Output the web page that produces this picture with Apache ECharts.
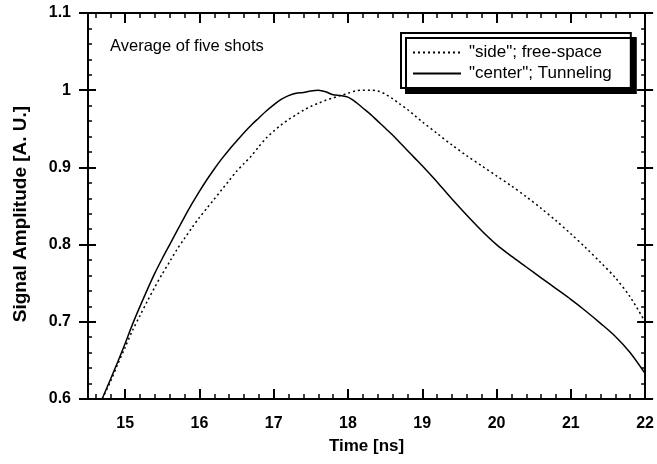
<!DOCTYPE html>
<html>
<head>
<meta charset="utf-8">
<script src="https://cdn.jsdelivr.net/npm/echarts@6/dist/echarts.min.js"></script>
<style>html,body{margin:0;padding:0;background:#fff}#c{width:657px;height:464px}</style>
</head>
<body>
<div id="c"></div>
<script>
// ---- data ----
const xTickLabels = [15, 16, 17, 18, 19, 20, 21, 22];
const yTickLabels = [0.6, 0.7, 0.8, 0.9, 1.0, 1.1];
const seriesNames = ['"side"; free-space', '"center"; Tunneling'];

const centerTime = [14.69,14.8,14.9,15.0,15.1,15.2,15.3,15.4,15.5,15.6,15.7,15.8,15.9,16.0,16.1,16.2,16.3,16.4,16.5,16.6,16.7,16.8,16.9,17.0,17.1,17.2,17.3,17.4,17.5,17.6,17.7,17.8,17.9,18.0,18.1,18.2,18.3,18.4,18.5,18.6,18.7,18.8,18.9,19.0,19.2,19.4,19.6,19.8,20.0,20.2,20.4,20.6,20.8,21.0,21.2,21.4,21.6,21.8,22.0];
const centerAmp  = [0.600,0.625,0.648,0.672,0.697,0.720,0.742,0.763,0.782,0.800,0.818,0.836,0.853,0.869,0.884,0.898,0.911,0.923,0.934,0.945,0.955,0.964,0.973,0.981,0.988,0.993,0.996,0.997,0.999,1.000,0.998,0.994,0.993,0.991,0.985,0.977,0.969,0.960,0.951,0.942,0.932,0.922,0.912,0.902,0.881,0.859,0.838,0.818,0.800,0.785,0.771,0.757,0.743,0.729,0.714,0.698,0.681,0.660,0.633];

const sideTime = [14.69,14.8,14.9,15.0,15.1,15.2,15.3,15.4,15.5,15.6,15.7,15.8,15.9,16.0,16.1,16.2,16.3,16.4,16.5,16.6,16.7,16.8,16.9,17.0,17.1,17.2,17.3,17.4,17.5,17.6,17.7,17.8,17.9,18.0,18.1,18.2,18.3,18.4,18.5,18.6,18.7,18.8,18.9,19.0,19.2,19.4,19.6,19.8,20.0,20.2,20.4,20.6,20.8,21.0,21.2,21.4,21.6,21.8,22.0];
const sideAmp  = [0.600,0.622,0.645,0.667,0.689,0.708,0.727,0.745,0.762,0.778,0.794,0.808,0.822,0.835,0.847,0.859,0.871,0.883,0.895,0.905,0.915,0.927,0.938,0.947,0.955,0.962,0.968,0.974,0.979,0.983,0.987,0.990,0.993,0.996,0.999,1.000,1.000,0.999,0.995,0.989,0.982,0.975,0.967,0.959,0.944,0.929,0.915,0.902,0.889,0.876,0.862,0.847,0.831,0.814,0.796,0.777,0.757,0.732,0.700];

// minor tick positions
const xMinor = [];
for (let i = 146; i <= 220; i += 2) { if (i % 10 !== 0) xMinor.push(i / 10); }
const yMinor = [];
for (let i = 60; i <= 110; i += 2) { if (i % 10 !== 0) yMinor.push(i / 100); }

const FONT = '"Liberation Sans", Arial, sans-serif';
const zip = (a, b) => a.map((v, i) => [v, b[i]]);

const baseX = (pos, opt) => Object.assign({
  type: 'value', min: 14.5, max: 22, position: pos, gridIndex: 0,
  splitLine: { show: false }, axisLabel: { show: false },
  axisLine: { show: false }, axisTick: { show: false }
}, opt);
const baseY = (pos, opt) => Object.assign({
  type: 'value', min: 0.6, max: 1.1, position: pos, gridIndex: 0,
  splitLine: { show: false }, axisLabel: { show: false },
  axisLine: { show: false }, axisTick: { show: false }
}, opt);

const chart = echarts.init(document.getElementById('c'));
chart.setOption({
  backgroundColor: '#fff',
  animation: false,
  textStyle: { fontFamily: FONT },
  grid: { left: 88, right: 10, top: 13, bottom: 65, containLabel: false },
  title: {
    text: 'Average of five shots', left: 105, top: 33,
    textStyle: { fontFamily: FONT, fontSize: 16.5, fontWeight: 'normal', color: '#000' }
  },
  legend: {
    orient: 'vertical', left: 401, top: 33,
    padding: [11, 19, 6, 11], itemGap: 4, itemWidth: 48, itemHeight: 17,
    backgroundColor: '#fff', borderColor: '#000', borderWidth: 2,
    shadowColor: '#000', shadowBlur: 0, shadowOffsetX: 5, shadowOffsetY: 5,
    itemStyle: { opacity: 0 },
    textStyle: { fontFamily: FONT, fontSize: 17, color: '#000', padding: [0, 0, 0, 3] },
    data: seriesNames
  },
  xAxis: [
    baseX('bottom', {
      axisLine: { show: true, onZero: false, lineStyle: { color: '#000', width: 2 } },
      axisTick: { show: true, inside: true, length: 10, customValues: xTickLabels, lineStyle: { color: '#000', width: 2 } },
      axisLabel: { show: true, customValues: xTickLabels, margin: 17, color: '#000', fontFamily: FONT, fontSize: 16, fontWeight: 'bold', formatter: v => String(v) },
      name: 'Time [ns]', nameLocation: 'middle', nameGap: 39,
      nameTextStyle: { color: '#000', fontFamily: FONT, fontSize: 17, fontWeight: 'bold' }
    }),
    baseX('bottom', {
      axisTick: { show: true, inside: true, length: 5, customValues: xMinor, lineStyle: { color: '#000', width: 1.5 } }
    }),
    baseX('top', {
      axisLine: { show: true, onZero: false, lineStyle: { color: '#000', width: 2 } },
      axisTick: { show: true, inside: true, length: 10, customValues: xTickLabels, lineStyle: { color: '#000', width: 2 } }
    }),
    baseX('top', {
      axisTick: { show: true, inside: true, length: 5, customValues: xMinor, lineStyle: { color: '#000', width: 1.5 } }
    })
  ],
  yAxis: [
    baseY('left', {
      axisLine: { show: true, onZero: false, lineStyle: { color: '#000', width: 2 } },
      axisTick: { show: true, inside: false, length: 9, customValues: yTickLabels, lineStyle: { color: '#000', width: 2 } },
      axisLabel: { show: true, customValues: yTickLabels, margin: 17, color: '#000', fontFamily: FONT, fontSize: 16, fontWeight: 'bold', formatter: v => String(Math.round(v * 10) / 10) },
      name: 'Signal Amplitude [A. U.]', nameLocation: 'middle', nameGap: 58,
      nameTextStyle: { color: '#000', fontFamily: FONT, fontSize: 19, fontWeight: 'bold', padding: [0, 16, 0, 0] }
    }),
    baseY('left', {
      axisTick: { show: true, inside: true, length: 8, customValues: yTickLabels, lineStyle: { color: '#000', width: 2 } }
    }),
    baseY('left', {
      axisTick: { show: true, inside: true, length: 4, customValues: yMinor, lineStyle: { color: '#000', width: 1.5 } }
    }),
    baseY('right', {
      axisLine: { show: true, onZero: false, lineStyle: { color: '#000', width: 2 } },
      axisTick: { show: true, inside: true, length: 8, customValues: yTickLabels, lineStyle: { color: '#000', width: 2 } }
    }),
    baseY('right', {
      axisTick: { show: true, inside: false, length: 8, customValues: yTickLabels, lineStyle: { color: '#000', width: 2 } }
    }),
    baseY('right', {
      axisTick: { show: true, inside: true, length: 4, customValues: yMinor, lineStyle: { color: '#000', width: 1.5 } }
    })
  ],
  series: [
    {
      name: seriesNames[0], type: 'line', xAxisIndex: 0, yAxisIndex: 0,
      data: zip(sideTime, sideAmp), symbol: 'none', smooth: 0.3,
      lineStyle: { color: '#000', width: 1.5, type: [2, 3] },
      itemStyle: { color: '#000' }
    },
    {
      name: seriesNames[1], type: 'line', xAxisIndex: 0, yAxisIndex: 0,
      data: zip(centerTime, centerAmp), symbol: 'none', smooth: 0.3,
      lineStyle: { color: '#000', width: 1.5, type: 'solid' },
      itemStyle: { color: '#000' }
    }
  ]
});
</script>
</body>
</html>
